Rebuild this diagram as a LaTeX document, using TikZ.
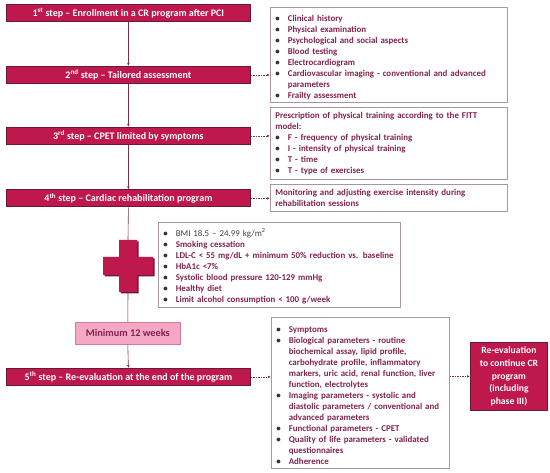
\documentclass[tikz,border=0pt]{standalone}
\usepackage{fontspec}
\setmainfont{Carlito}
\usetikzlibrary{arrows.meta}
\definecolor{crim}{RGB}{190,24,76}
\definecolor{crimdark}{RGB}{105,24,56}
\definecolor{txt}{RGB}{130,35,80}
\definecolor{boxline}{RGB}{170,150,160}
\definecolor{pinkfill}{RGB}{244,168,196}
\definecolor{pinkline}{RGB}{214,120,160}
\definecolor{conn}{RGB}{120,50,80}
\newcommand\bitem[1]{\par\hangindent=12.5pt\hangafter=1\noindent\makebox[12.5pt][l]{\textcolor{black!80}{\textbullet}}#1}
\begin{document}
\begin{tikzpicture}[x=1pt,y=-1pt,
 stepbox/.style={draw=crimdark, fill=crim, line width=0.8pt, text=white,
   font=\fontsize{10}{11}\selectfont\bfseries, minimum width=244pt,
   minimum height=17pt, inner sep=0pt, anchor=north west},
 infobox/.style={draw=boxline, line width=0.6pt, fill=white, text=txt,
   font=\fontsize{8.9}{11}\selectfont\bfseries, align=left, anchor=north west,
   inner xsep=5pt, inner ysep=3pt},
 flow/.style={draw=conn, line width=0.6pt, -{Latex[length=3pt,width=2.6pt]}},
 plain/.style={draw=conn, line width=0.6pt},
 dotarrow/.style={draw=conn, line width=0.6pt, dash pattern=on 1.5pt off 1pt,
   -{Latex[length=3pt,width=2.6pt]}},
]
\useasboundingbox (0,0) rectangle (550,473);

% step boxes
\node[stepbox] (s1) at (6,4.5) {1\textsuperscript{st} step – Enrollment in a CR program after PCI};
\node[stepbox] (s2) at (6,66) {2\textsuperscript{nd} step – Tailored assessment};
\node[stepbox] (s3) at (6,127) {3\textsuperscript{rd} step – CPET limited by symptoms};
\node[stepbox] (s4) at (6,189.5) {4\textsuperscript{th} step – Cardiac rehabilitation program};
\node[stepbox] (s5) at (6,368) {5\textsuperscript{th} step – Re-evaluation at the end of the program};

% info boxes
\node[infobox, text width=227pt, minimum width=237pt, minimum height=94pt] (bA) at (270,7) {%
\bitem{Clinical history}
\bitem{Physical examination}
\bitem{Psychological and social aspects}
\bitem{Blood testing}
\bitem{Electrocardiogram}
\bitem{Cardiovascular imaging - conventional and advanced\newline parameters}
\bitem{Frailty assessment}};

\node[infobox, text width=227pt, minimum width=237pt, minimum height=72pt] (bB) at (270,107) {%
Prescription of physical training according to the FITT\newline model:
\bitem{F - frequency of physical training}
\bitem{I - intensity of physical training}
\bitem{T - time}
\bitem{T - type of exercises}};

\node[infobox, text width=227pt, minimum width=237pt, minimum height=27pt, inner ysep=2.5pt] (bC) at (270,184) {%
Monitoring and adjusting exercise intensity during\newline rehabilitation sessions};

\node[infobox, text width=232pt, minimum width=242pt, minimum height=85pt] (bD) at (158,222) {%
\bitem{{\mdseries\color{black!75}BMI 18.5 – 24.99 kg/m\textsuperscript{2}}}
\bitem{Smoking cessation}
\bitem{LDL-C < 55 mg/dL + minimum 50\% reduction vs. baseline}
\bitem{HbA1c <7\%}
\bitem{Systolic blood pressure 120-129 mmHg}
\bitem{Healthy diet}
\bitem{Limit alcohol consumption < 100 g/week}};

\node[infobox, text width=168pt, minimum width=178pt, minimum height=151pt] (bE) at (271,317) {%
\bitem{Symptoms}
\bitem{Biological parameters - routine\newline biochemical assay, lipid profile,\newline carbohydrate profile, inflammatory\newline markers, uric acid, renal function, liver\newline function, electrolytes}
\bitem{Imaging parameters - systolic and\newline diastolic parameters / conventional and\newline advanced parameters}
\bitem{Functional parameters - CPET}
\bitem{Quality of life parameters - validated\newline questionnaires}
\bitem{Adherence}};

\node[draw=crimdark, fill=crim, line width=0.9pt, text=white, anchor=north west,
  font=\fontsize{9.6}{12.7}\selectfont\bfseries, align=center,
  minimum width=77pt, minimum height=68pt, inner sep=0pt] (bF) at (470,342)
  {Re-evaluation\\ to continue CR\\ program\\ (including\\ phase III)};

% minimum weeks box
\node[draw=pinkline, fill=pinkfill, line width=0.6pt, text=txt, anchor=north west,
  font=\fontsize{10.3}{11}\selectfont\bfseries, minimum width=105pt,
  minimum height=22pt, inner sep=0pt] (mw) at (75,322) {Minimum 12 weeks};

% cross
\node[minimum width=50pt, minimum height=52pt, inner sep=0pt] (cross) at (128,266) {};
\fill[crimdark] (120.5,241.5) -- (138.5,241.5) -- (138.5,258.5) -- (154.5,258.5)
  -- (154.5,276.5) -- (138.5,276.5) -- (138.5,293.5) -- (120.5,293.5)
  -- (120.5,276.5) -- (104.5,276.5) -- (104.5,258.5) -- (120.5,258.5) -- cycle;
\fill[crim] (119,240) -- (137,240) -- (137,257) -- (153,257) -- (153,275)
  -- (137,275) -- (137,292) -- (119,292) -- (119,275) -- (103,275)
  -- (103,257) -- (119,257) -- cycle;

% vertical flow
\draw[flow] (s1.south) -- (s2.north);
\draw[flow] (s2.south) -- (s3.north);
\draw[flow] (s3.south) -- (s4.north);
\draw[plain] (s4.south) -- (cross.north);
\draw[plain] (cross.south) -- (mw.north);
\draw[flow] (mw.south) -- (s5.north);

% dashed links
\draw[dotarrow] (s2.east) -- (s2.east -| bA.west);
\draw[dotarrow] (s3.east) -- (s3.east -| bB.west);
\draw[dotarrow] (s4.east) -- (s4.east -| bC.west);
\draw[dotarrow] (s5.east) -- (s5.east -| bE.west);
\draw[dotarrow] (bF.west -| bE.east) -- (bF.west);
\end{tikzpicture}
\end{document}
